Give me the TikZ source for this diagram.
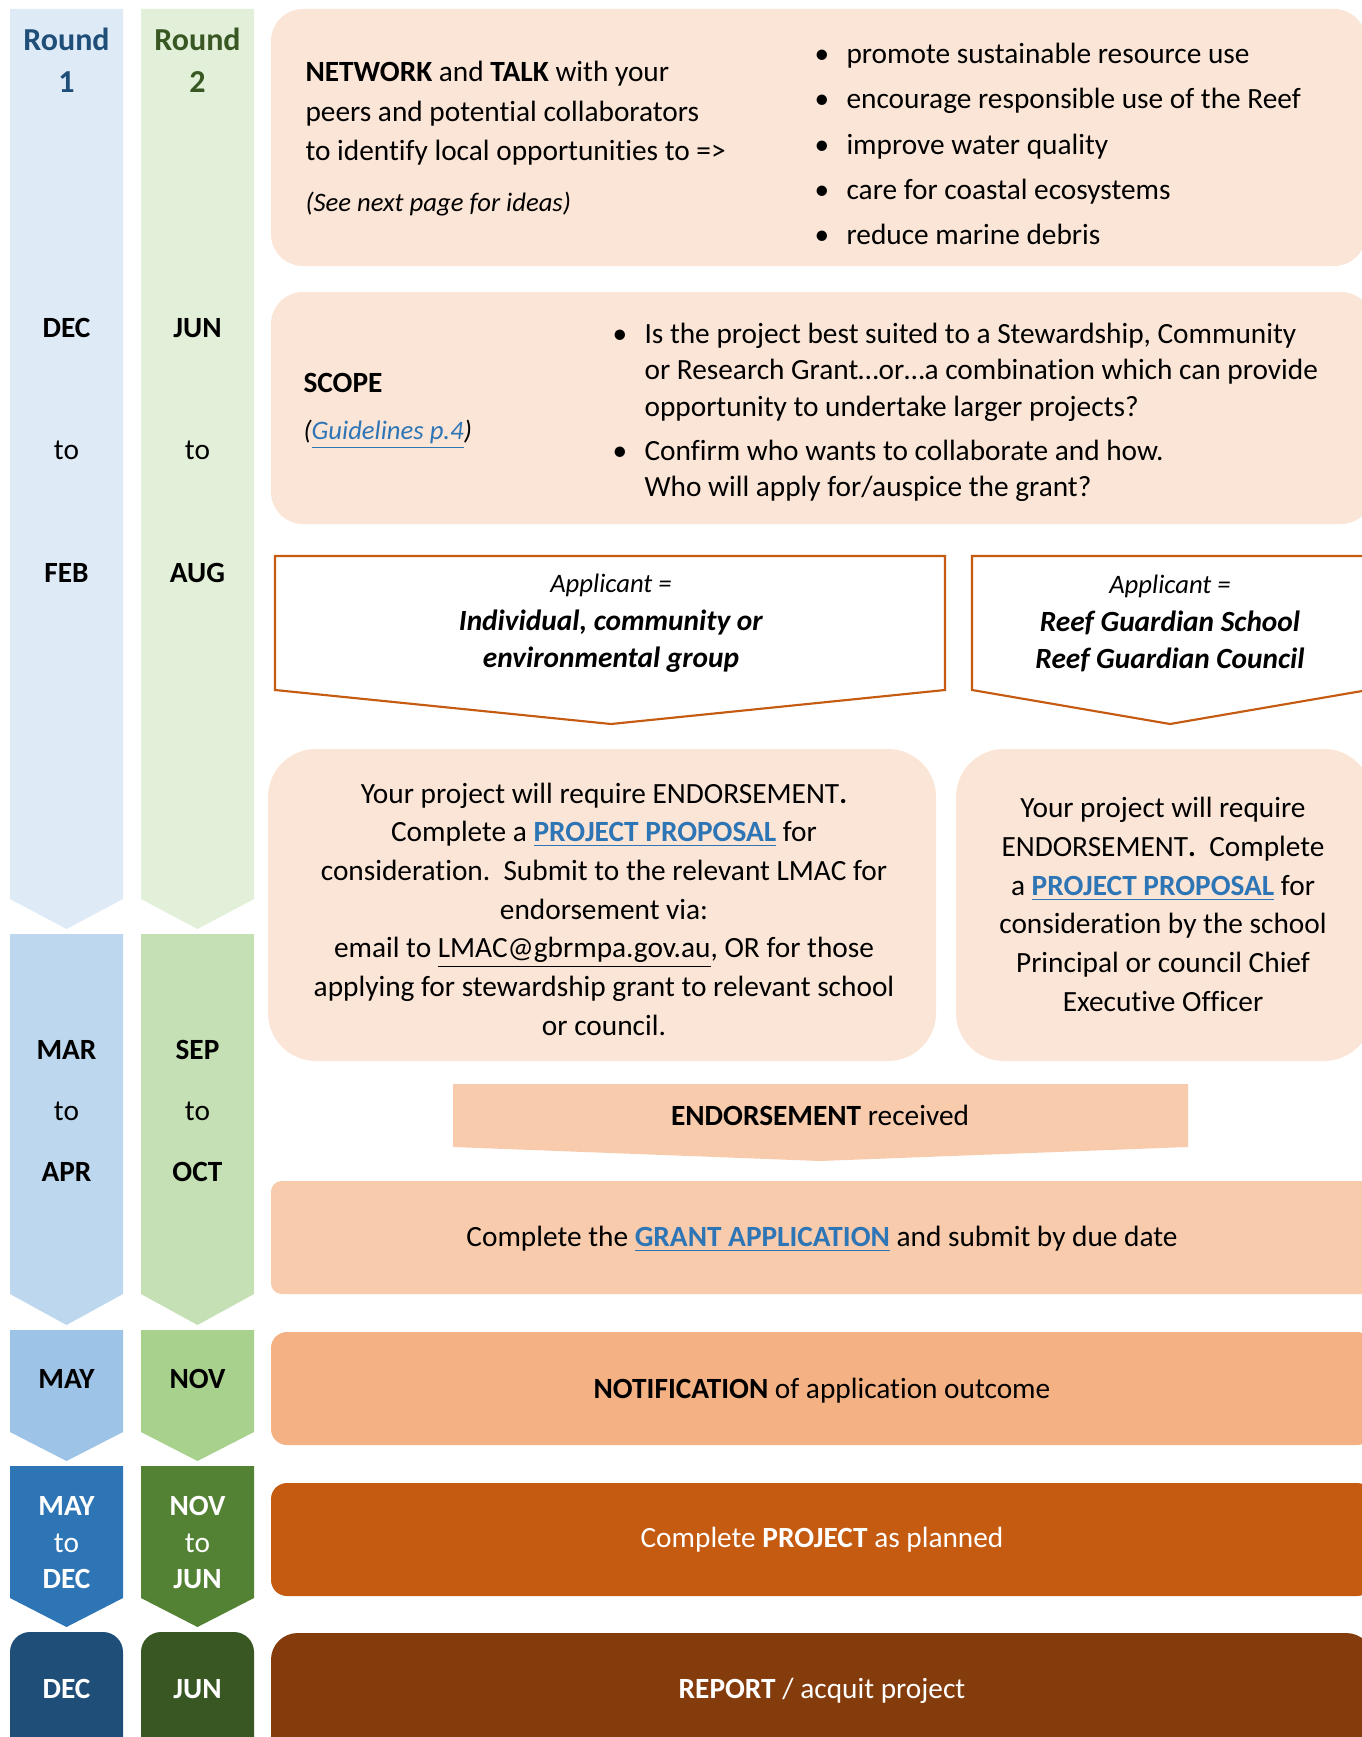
\documentclass[tikz,border=0pt]{standalone}
\usepackage{fontspec}
\setmainfont{Carlito}[Ligatures=NoCommon]
\usepackage{xcolor}

\definecolor{bluea}{HTML}{DEEBF7}
\definecolor{blueb}{HTML}{BDD7EE}
\definecolor{bluec}{HTML}{9DC3E6}
\definecolor{blued}{HTML}{2E75B6}
\definecolor{bluee}{HTML}{1F4E79}
\definecolor{greena}{HTML}{E2F0D9}
\definecolor{greenb}{HTML}{C5E0B4}
\definecolor{greenc}{HTML}{A9D18E}
\definecolor{greend}{HTML}{548235}
\definecolor{greene}{HTML}{385723}
\definecolor{peach}{HTML}{FBE5D6}
\definecolor{peachb}{HTML}{F8CBAD}
\definecolor{peachc}{HTML}{F4B183}
\definecolor{rust}{HTML}{C55A11}
\definecolor{brownish}{HTML}{843C0C}
\definecolor{linkblue}{HTML}{2E75B6}

\newcommand{\ulink}[1]{\textcolor{linkblue}{\underline{#1}}}

\tikzset{
  base/.style={inner sep=0pt, font=\fontsize{11}{14.5}\selectfont},
  small/.style={inner sep=0pt, font=\fontsize{10}{13}\selectfont},
  month/.style={inner sep=0pt, font=\fontsize{11}{14.5}\selectfont\bfseries},
  roundlbl/.style={inner sep=0pt, font=\fontsize{12}{15}\selectfont\bfseries},
  boxtext/.style={base, align=center},
  bullets/.style={inner sep=0pt, anchor=west, align=left},
}
\newcommand{\bul}{\makebox[12pt][l]{\textbullet}}
\newcommand{\nobul}{\makebox[12pt][l]{}}

\begin{document}
\begin{tikzpicture}[x=0.375pt,y=-0.375pt]
  \useasboundingbox (0,0) rectangle (1362,1737);
  \clip (0,0) rectangle (1362,1737);

  % timeline columns
  \foreach \yt/\ys/\yp/\ca/\cb in {9/899/929/bluea/greena, 934/1294/1325/blueb/greenb,
      1330/1432/1461/bluec/greenc, 1466/1598/1627/blued/greend} {
    \fill[\ca] (10,\yt) -- (123,\yt) -- (123,\ys) -- (66.5,\yp) -- (10,\ys) -- cycle;
    \fill[\cb] (141,\yt) -- (254,\yt) -- (254,\ys) -- (197.5,\yp) -- (141,\ys) -- cycle;
  }
  \fill[bluee, rounded corners=7.5pt] (10,1632) rectangle (123,1770);
  \fill[greene, rounded corners=7.5pt] (141,1632) rectangle (254,1770);

  % round 1
  \node[roundlbl, text=bluee] (round1) at (66.5,39) {Round};
  \node[roundlbl, text=bluee] (num1) at (66.5,82) {1};
  \node[month] (dec1) at (66.5,328) {DEC};
  \node[base] (to1) at (66.5,450) {to};
  \node[month] (feb1) at (66.5,573) {FEB};
  \node[month] (mar1) at (66.5,1050) {MAR};
  \node[base] (tob1) at (66.5,1111) {to};
  \node[month] (apr1) at (66.5,1172) {APR};
  \node[month] (may1) at (66.5,1379) {MAY};
  \node[month, text=white] (mayb1) at (66.5,1506) {MAY};
  \node[base, text=white] (toc1) at (66.5,1543) {to};
  \node[month, text=white] (decb1) at (66.5,1579) {DEC};
  \node[month, text=white] (decc1) at (66.5,1689) {DEC};

  % round 2
  \node[roundlbl, text=greene] (round2) at (197.5,39) {Round};
  \node[roundlbl, text=greene] (num2) at (197.5,82) {2};
  \node[month] (jun2) at (197.5,328) {JUN};
  \node[base] (to2) at (197.5,450) {to};
  \node[month] (aug2) at (197.5,573) {AUG};
  \node[month] (sep2) at (197.5,1050) {SEP};
  \node[base] (tob2) at (197.5,1111) {to};
  \node[month] (oct2) at (197.5,1172) {OCT};
  \node[month] (nov2) at (197.5,1379) {NOV};
  \node[month, text=white] (novb2) at (197.5,1506) {NOV};
  \node[base, text=white] (toc2) at (197.5,1543) {to};
  \node[month, text=white] (junb2) at (197.5,1579) {JUN};
  \node[month, text=white] (junc2) at (197.5,1689) {JUN};

  % step boxes
  \fill[peach, rounded corners=12pt] (271,9) rectangle (1366,266);
  \fill[peach, rounded corners=12pt] (271,292) rectangle (1373,524);
  \draw[rust, line width=0.8pt, fill=white] (275,556) -- (945,556) -- (945,690)
    -- (611,724) -- (275,690) -- cycle;
  \draw[rust, line width=0.8pt, fill=white] (972,556) -- (1368,556) -- (1368,690)
    -- (1170,724) -- (972,690) -- cycle;
  \fill[peach, rounded corners=18pt] (268,749) rectangle (936,1061);
  \fill[peach, rounded corners=18pt] (956,749) rectangle (1372,1061);
  \fill[peachb] (453,1084) -- (1188,1084) -- (1188,1147) -- (820,1161)
    -- (453,1147) -- cycle;
  \fill[peachb, rounded corners=4pt] (271,1181) rectangle (1373,1294);
  \fill[peachc, rounded corners=6pt] (271,1332) rectangle (1373,1445);
  \fill[rust, rounded corners=6pt] (271,1483) rectangle (1373,1596);
  \fill[brownish, rounded corners=10pt] (271,1633) rectangle (1373,1770);

  % network
  \node[base, align=left, anchor=west, font=\fontsize{11}{14.8}\selectfont] (network) at (305,113.5)
    {\textbf{NETWORK} and \textbf{TALK} with your\\
     peers and potential collaborators\\
     to identify local opportunities to =>};
  \node[small, anchor=west] (ideas) at (305,204) {\textit{(See next page for ideas)}};
  \node[bullets, font=\fontsize{11}{17}\selectfont] (aims) at (814,144)
    {\bul promote sustainable resource use\\
     \bul encourage responsible use of the Reef\\
     \bul improve water quality\\
     \bul care for coastal ecosystems\\
     \bul reduce marine debris};

  % scope
  \node[base, anchor=west] (scope) at (303,383) {\textbf{SCOPE}};
  \node[small, anchor=west] (guide) at (303,435) {\textit{(\ulink{Guidelines p.4})}};
  \node[bullets, font=\fontsize{11}{13.6}\selectfont] (scopelist) at (612,412.5)
    {\bul Is the project best suited to a Stewardship, Community\\
     \nobul or Research Grant…or…a combination which can provide\\
     \nobul opportunity to undertake larger projects?\\[3pt]
     \bul Confirm who wants to collaborate and how.\\
     \nobul Who will apply for/auspice the grant?};

  % applicants
  \node[boxtext, font=\fontsize{11}{14}\selectfont] (groupapp) at (611,623.5)
    {{\fontsize{10}{14}\selectfont\textit{Applicant =}}\\
     \textbf{\textit{Individual, community or}}\\
     \textbf{\textit{environmental group}}};
  \node[boxtext, font=\fontsize{11}{14}\selectfont] (schoolapp) at (1170,623.5)
    {{\fontsize{10}{14}\selectfont\textit{Applicant =}}\\
     \textbf{\textit{Reef Guardian School}}\\
     \textbf{\textit{Reef Guardian Council}}};

  % proposals
  \node[boxtext] (groupprop) at (604,909)
    {Your project will require ENDORSEMENT\textbf{.}\\
     Complete a \textbf{\ulink{PROJECT PROPOSAL}} for\\
     consideration.\ \ Submit to the relevant LMAC for\\
     endorsement via:\\
     email to \underline{LMAC@gbrmpa.gov.au}, OR for those\\
     applying for stewardship grant to relevant school\\
     or council.};
  \node[boxtext] (schoolprop) at (1163,904.5)
    {Your project will require\\
     ENDORSEMENT\textbf{.}\ \ Complete\\
     a \textbf{\ulink{PROJECT PROPOSAL}} for\\
     consideration by the school\\
     Principal or council Chief\\
     Executive Officer};

  % later steps
  \node[base] (endorsed) at (820,1115) {\textbf{ENDORSEMENT} received};
  \node[base] (apply) at (822,1239)
    {Complete the \textbf{\ulink{GRANT APPLICATION}} and submit by due date};
  \node[base] (notify) at (822,1391) {\textbf{NOTIFICATION} of application outcome};
  \node[base, text=white] (project) at (822,1540) {Complete \textbf{PROJECT} as planned};
  \node[base, text=white] (report) at (822,1691) {\textbf{REPORT} / acquit project};
\end{tikzpicture}
\end{document}
